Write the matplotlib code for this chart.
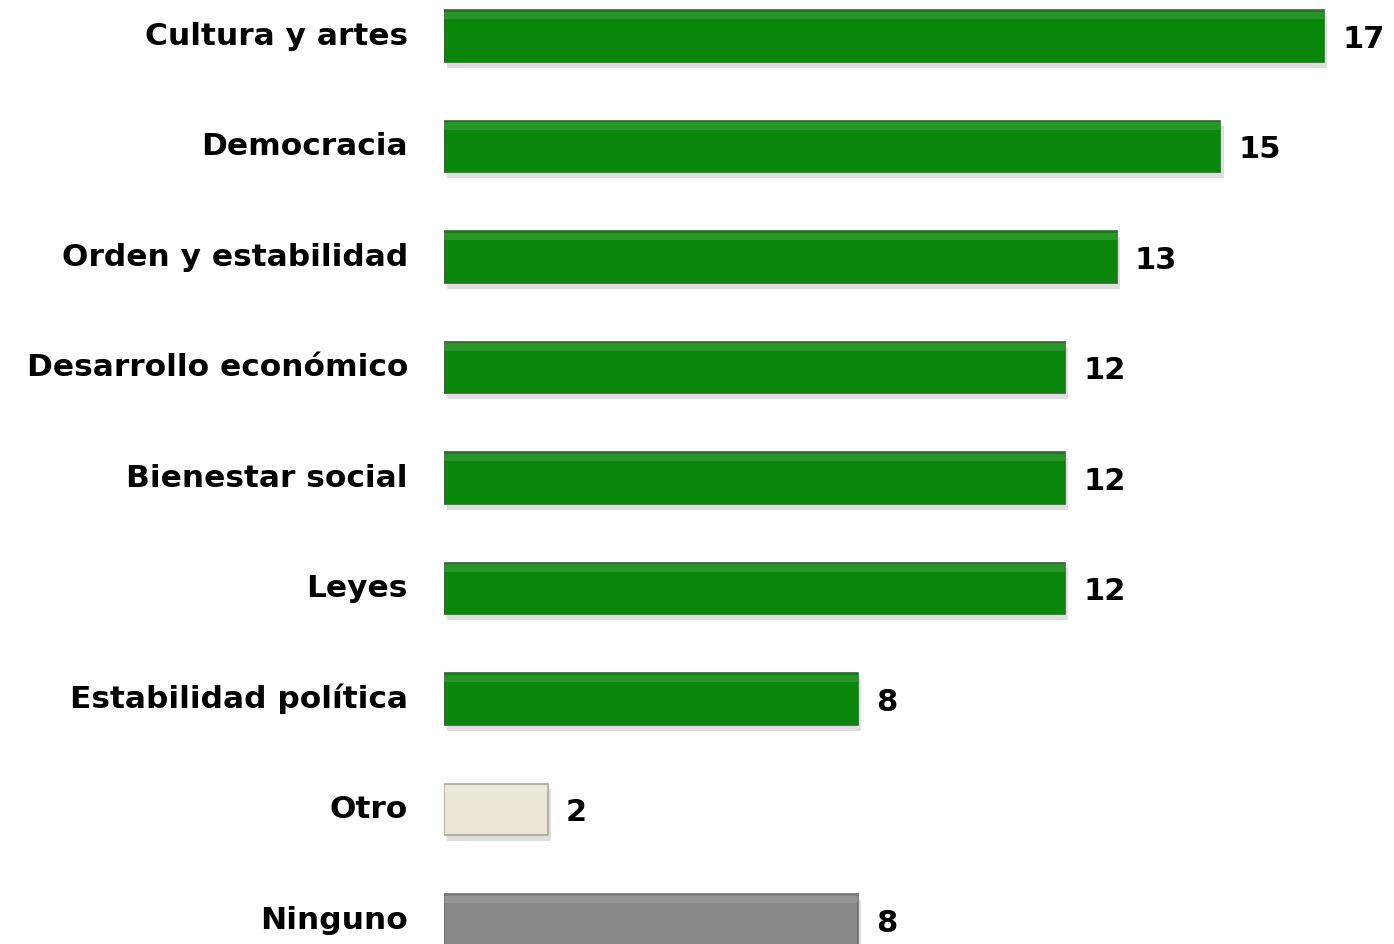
import numpy as np
import matplotlib.pyplot as plt

# Data
categories = ['Cultura y artes', 'Democracia', 'Orden y estabilidad',
              'Desarrollo económico', 'Bienestar social', 'Leyes',
              'Estabilidad política', 'Otro', 'Ninguno']
values = [17, 15, 13, 12, 12, 12, 8, 2, 8]
colors = ['#0a870a'] * 7 + ['#ebe7d4', '#888888']
edges = ['#2f6a2f'] * 7 + ['#a8a596', '#6e6e6e']

plt.rcParams['font.family'] = ['DejaVu Sans']

fig = plt.figure(figsize=(13.94, 9.44), dpi=100)
ax = fig.add_axes([444 / 1394, 0, 950 / 1394, 1])

y = np.arange(len(categories))
h = 0.47

# soft drop shadow
ax.barh(y + 0.05, values, height=h, left=0.06, color='#c8c8c8', alpha=0.6, zorder=1)
ax.barh(y, values, height=h, color=colors, edgecolor=edges, linewidth=1.2, zorder=2)
# top bevel highlight
ax.barh(y - h / 2 + 0.05, values, height=0.07, color='white', alpha=0.12, zorder=3)

for yi, v in zip(y, values):
    ax.text(v + 0.35, yi, str(v), va='center_baseline', ha='left', fontsize=22,
            fontweight='bold', color='black')

ax.set_xlim(0, 950 / 51.76)
ax.set_ylim(8.217, -0.326)
ax.set_yticks(y)
ax.set_yticklabels(categories, fontsize=22.5, fontweight='bold')
for t in ax.get_yticklabels():
    t.set_verticalalignment('center')
ax.tick_params(axis='y', length=0, pad=26)
ax.set_xticks([])
for s in ax.spines.values():
    s.set_visible(False)

fig.savefig('out.png', dpi=100)
